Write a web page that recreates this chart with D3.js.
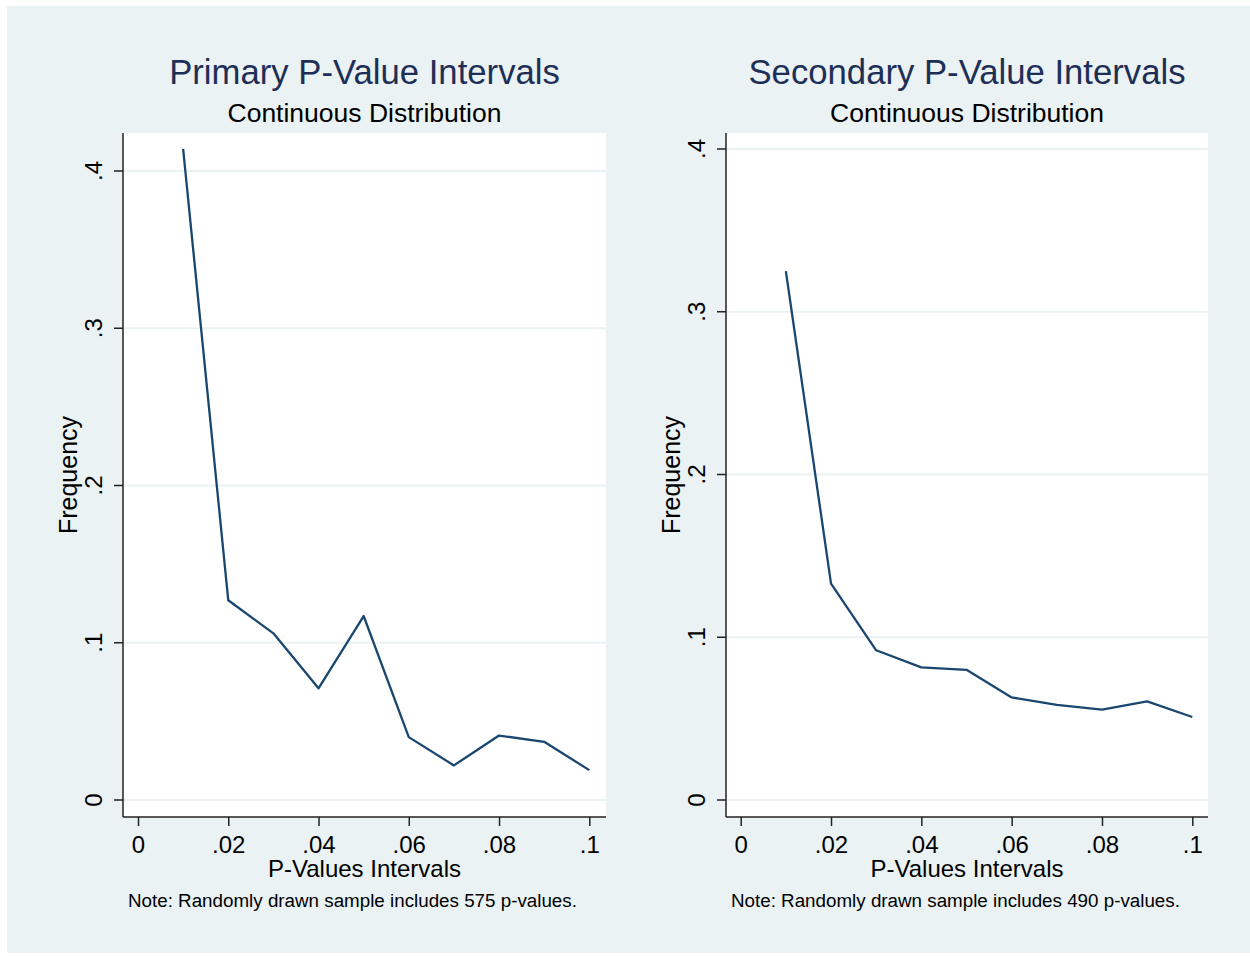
<!DOCTYPE html>
<html>
<head>
<meta charset="utf-8">
<script src="https://cdn.jsdelivr.net/npm/d3@7/dist/d3.min.js"></script>
<style>
  body { margin: 0; background: #ffffff; }
  svg { display: block; font-family: "Liberation Sans", Arial, sans-serif; }
</style>
</head>
<body>
<div id="chart"></div>
<script>
// p-value interval midpoints (x) and frequency per interval
var pvals = [0.01, 0.02, 0.03, 0.04, 0.05, 0.06, 0.07, 0.08, 0.09, 0.1];
var primaryFreq = [0.414, 0.127, 0.106, 0.071, 0.117, 0.040, 0.022, 0.041, 0.037, 0.019];
var secondaryFreq = [0.325, 0.133, 0.092, 0.0815, 0.080, 0.063, 0.0585, 0.0555, 0.0606, 0.051];

var xTicks = [0, 0.02, 0.04, 0.06, 0.08, 0.1];
var xTickLabels = ["0", ".02", ".04", ".06", ".08", ".1"];
var yTicks = [0, 0.1, 0.2, 0.3, 0.4];
var yTickLabels = ["0", ".1", ".2", ".3", ".4"];

var titles = ["Primary P-Value Intervals", "Secondary P-Value Intervals"];
var subtitles = ["Continuous Distribution", "Continuous Distribution"];
var notes = ["Note: Randomly drawn sample includes 575 p-values.",
             "Note: Randomly drawn sample includes 490 p-values."];
var xTitle = "P-Values Intervals";
var yTitle = "Frequency";

var W = 1250, H = 956;
var bg = "#eaf2f3", navy = "#1a476f";

var svg = d3.select("#chart").append("svg").attr("width", W).attr("height", H);
svg.append("rect").attr("x", 7).attr("y", 6).attr("width", W - 7).attr("height", 947).attr("fill", bg);

// panel layout: plot box plus where 0 and max sit on each scale
var panels = [
  { left: 123, right: 606, top: 133, bottom: 817, x0: 138, x1: 589.3, y0: 800, y4: 171, data: primaryFreq },
  { left: 726, right: 1208, top: 133, bottom: 817, x0: 740.7, x1: 1192.3, y0: 800, y4: 149, data: secondaryFreq }
];

panels.forEach(function(p, i) {
  var x = d3.scaleLinear().domain([0, 0.1]).range([p.x0, p.x1]);
  var y = d3.scaleLinear().domain([0, 0.4]).range([p.y0, p.y4]);
  var g = svg.append("g");
  var cx = (p.left + p.right) / 2, cy = (p.top + p.bottom) / 2;

  g.append("rect").attr("x", p.left).attr("y", p.top)
    .attr("width", p.right - p.left).attr("height", p.bottom - p.top).attr("fill", "#ffffff");

  // gridlines
  g.selectAll(".grid").data(yTicks).enter().append("line")
    .attr("x1", p.left).attr("x2", p.right)
    .attr("y1", function(d) { return y(d); }).attr("y2", function(d) { return y(d); })
    .attr("stroke", bg).attr("stroke-width", 2);

  // y axis
  var yAxis = d3.axisLeft(y).tickValues(yTicks).tickSize(9)
    .tickFormat(function(d, k) { return yTickLabels[k]; });
  var ya = g.append("g").attr("transform", "translate(" + p.left + ",0)").call(yAxis);
  ya.select(".domain").attr("d", "M0," + p.top + "V" + p.bottom);
  ya.selectAll("path,line").attr("stroke", "#222").attr("stroke-width", 1.5);
  ya.selectAll("text")
    .attr("x", null).attr("dy", null)
    .attr("transform", function(d) { return "translate(-21," + y(d) + ") rotate(-90)"; })
    .attr("y", 0)
    .attr("text-anchor", "middle").attr("fill", "#000")
    .style("font-size", "24px");
  ya.selectAll(".tick").attr("transform", null);
  ya.selectAll(".tick line").attr("y1", function(d) { return y(d); }).attr("y2", function(d) { return y(d); });

  // x axis
  var xAxis = d3.axisBottom(x).tickValues(xTicks).tickSize(9)
    .tickFormat(function(d, k) { return xTickLabels[k]; });
  var xa = g.append("g").attr("transform", "translate(0," + p.bottom + ")").call(xAxis);
  xa.select(".domain").attr("d", "M" + p.left + ",0H" + p.right);
  xa.selectAll("path,line").attr("stroke", "#222").attr("stroke-width", 1.5);
  xa.selectAll("text").attr("y", 36).attr("dy", null).attr("fill", "#000").style("font-size", "24px");

  // line
  var line = d3.line().x(function(d, k) { return x(pvals[k]); }).y(function(d) { return y(d); });
  g.append("path").datum(p.data).attr("d", line)
    .attr("fill", "none").attr("stroke", navy).attr("stroke-width", 2.3).attr("stroke-linejoin", "round");

  // texts
  g.append("text").attr("x", cx).attr("y", 84).attr("text-anchor", "middle")
    .attr("fill", "#1e2f57").style("font-size", "34.7px").text(titles[i]);
  g.append("text").attr("x", cx).attr("y", 122).attr("text-anchor", "middle")
    .attr("fill", "#000").style("font-size", "26.5px").text(subtitles[i]);
  g.append("text").attr("x", cx).attr("y", 877).attr("text-anchor", "middle")
    .attr("fill", "#000").style("font-size", "24px").text(xTitle);
  g.append("text").attr("transform", "translate(" + (p.left - 46) + "," + cy + ") rotate(-90)")
    .attr("text-anchor", "middle").attr("fill", "#000").style("font-size", "25px").text(yTitle);
  g.append("text").attr("x", p.left + 5).attr("y", 907).attr("text-anchor", "start")
    .attr("fill", "#000").style("font-size", "18.8px").text(notes[i]);
});
</script>
</body>
</html>
